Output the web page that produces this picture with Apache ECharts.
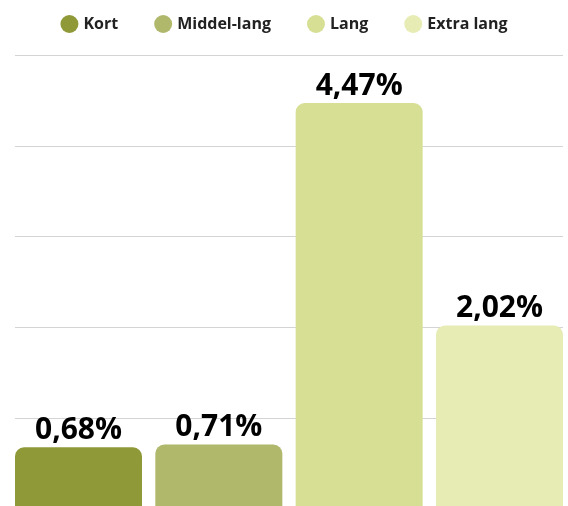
<!DOCTYPE html>
<html><head><meta charset="utf-8">
<script src="https://cdn.jsdelivr.net/npm/echarts@6/dist/echarts.min.js"></script>
<style>html,body{margin:0;padding:0;background:#fff;overflow:hidden}#c{width:568px;height:509px}</style>
</head><body><div id="c"></div>
<script>
const categories = [''];
const seriesNames = ['Kort', 'Middel-lang', 'Lang', 'Extra lang'];
const seriesValues = [0.68, 0.71, 4.47, 2.02];
const seriesColors = ['#8f9937', '#b0b86b', '#d7df95', '#e6ecb3'];

const chart = echarts.init(document.getElementById('c'), null, {renderer: 'canvas'});
const series = seriesNames.map((name, i) => ({
  name: name,
  type: 'bar',
  data: [seriesValues[i]],
  barGap: '10.5%',
  barCategoryGap: 0,
  itemStyle: {color: seriesColors[i], borderRadius: [9, 9, 0, 0]},
  label: {
    show: true, position: 'top', distance: 2,
    formatter: p => p.value.toFixed(2).replace('.', ',') + '%',
    fontFamily: 'Open Sans', fontWeight: 'bold', fontSize: 30, color: '#000'
  }
}));
chart.setOption({
  animation: false,
  legend: {
    top: 10, left: 'center', icon: 'circle', itemWidth: 18, itemHeight: 18, itemGap: 36,
    textStyle: {fontFamily: 'Open Sans', fontWeight: 'bold', fontSize: 16, color: '#222'},
    data: seriesNames
  },
  grid: {left: 15, right: 5, top: 55, bottom: 0, containLabel: false},
  xAxis: {type: 'category', data: categories, axisLine: {show: false}, axisTick: {show: false}, axisLabel: {show: false}},
  yAxis: {type: 'value', min: 0, max: 5, interval: 1, axisLabel: {show: false}, axisLine: {show: false}, axisTick: {show: false},
    splitLine: {lineStyle: {color: '#d4d4d4', width: 1}}},
  series: series
});
</script></body></html>
